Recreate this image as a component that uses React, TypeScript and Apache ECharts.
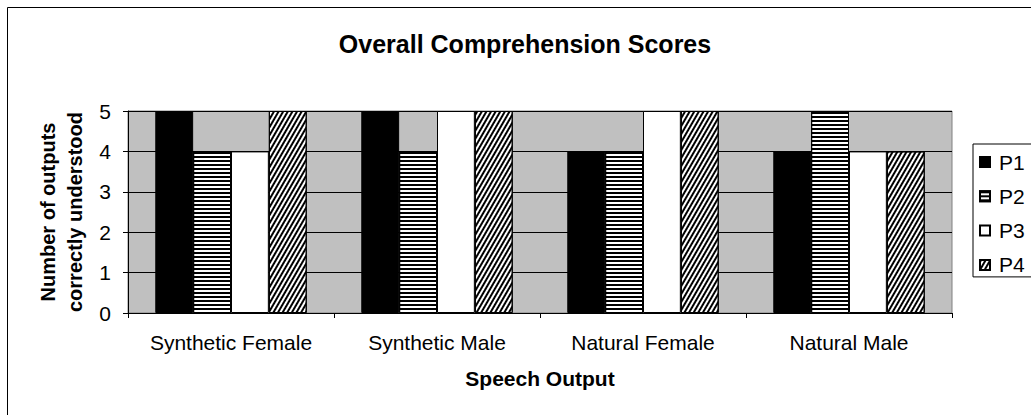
import React, { useEffect, useRef } from "react";
import * as echarts from "echarts";

const categories = ["Synthetic Female", "Synthetic Male", "Natural Female", "Natural Male"];
const seriesNames = ["P1", "P2", "P3", "P4"];
const p1 = [5, 5, 4, 4];
const p2 = [4, 4, 4, 5];
const p3 = [4, 5, 5, 4];
const p4 = [5, 5, 5, 4];
const yTicks = { min: 0, max: 5, interval: 1 };

const FONT = "Liberation Sans, Arial, sans-serif";

export default function App() {
  const ref = useRef<HTMLDivElement>(null);
  useEffect(() => {
    if (!ref.current) return;
    const chart = echarts.init(ref.current, undefined, { renderer: "svg" });
    const border = { borderColor: "#000", borderWidth: 1 };
    const styles: any[] = [
      { color: "#000", ...border },
      {
        color: "#fff",
        ...border,
        decal: { symbol: "rect", symbolSize: 1, dashArrayX: [1, 0], dashArrayY: [2, 2], rotation: 0, color: "#000" },
      },
      { color: "#fff", ...border },
      {
        color: "#fff",
        ...border,
        decal: { symbol: "rect", symbolSize: 1, dashArrayX: [1, 0], dashArrayY: [1.7, 1.9], rotation: -Math.PI / 3, color: "#000" },
      },
    ];
    const data = [p1, p2, p3, p4];
    chart.setOption({
      animation: false,
      aria: { enabled: false, decal: { show: true } },
      textStyle: { fontFamily: FONT, color: "#000" },
      title: {
        text: "Overall Comprehension Scores",
        left: 520,
        textAlign: "center",
        top: 26,
        textStyle: { fontFamily: FONT, fontSize: 25, fontWeight: "bold", color: "#000" },
      },
      grid: {
        left: 128,
        right: 79,
        top: 111,
        bottom: 102,
        show: true,
        backgroundColor: "#C0C0C0",
        borderColor: "#808080",
        borderWidth: 1,
        containLabel: false,
      },
      legend: {
        orient: "vertical",
        left: 973,
        top: 144,
        data: seriesNames,
        icon: "rect",
        itemWidth: 10,
        itemHeight: 10,
        itemGap: 13.3,
        padding: [7.5, 25, 1.5, 6],
        borderColor: "#000",
        borderWidth: 1,
        textStyle: { fontFamily: FONT, fontSize: 21, color: "#000", padding: [0, 0, 0, 4] },
      },
      xAxis: {
        type: "category",
        data: categories,
        name: "Speech Output",
        nameLocation: "middle",
        nameGap: 55,
        nameTextStyle: { fontFamily: FONT, fontSize: 21, fontWeight: "bold", color: "#000" },
        axisLine: { lineStyle: { color: "#000", width: 1 } },
        axisTick: { show: true, length: 5, interval: 0, lineStyle: { color: "#000" } },
        axisLabel: { fontFamily: FONT, fontSize: 21, color: "#000", margin: 19, interval: 0 },
      },
      yAxis: {
        type: "value",
        min: yTicks.min,
        max: yTicks.max,
        interval: yTicks.interval,
        name: "Number of outputs\ncorrectly understood",
        nameLocation: "middle",
        nameRotate: 90,
        nameGap: 40,
        nameTextStyle: { fontFamily: FONT, fontSize: 20, fontWeight: "bold", color: "#000", lineHeight: 27 },
        axisLine: { show: true, lineStyle: { color: "#000", width: 1 } },
        axisTick: { show: true, length: 5, lineStyle: { color: "#000" } },
        axisLabel: { fontFamily: FONT, fontSize: 21, color: "#000", margin: 17 },
        splitLine: { show: true, lineStyle: { color: "#000", width: 1 } },
      },
      series: seriesNames.map((n, i) => ({
        name: n,
        type: "bar",
        data: data[i],
        barGap: "0%",
        barCategoryGap: "26.5%",
        itemStyle: styles[i],
        emphasis: { disabled: true },
      })),
      graphic: [
        {
          type: "rect",
          shape: { x: 7.5, y: 7.5, width: 1100, height: 500 },
          style: { fill: "none", stroke: "#000", lineWidth: 1 },
          silent: true,
        },
      ],
    });
    return () => chart.dispose();
  }, []);
  return (
    <div
      ref={ref}
      style={{ position: "fixed", left: 0, top: 0, width: 1031, height: 415, background: "#fff" }}
    />
  );
}
